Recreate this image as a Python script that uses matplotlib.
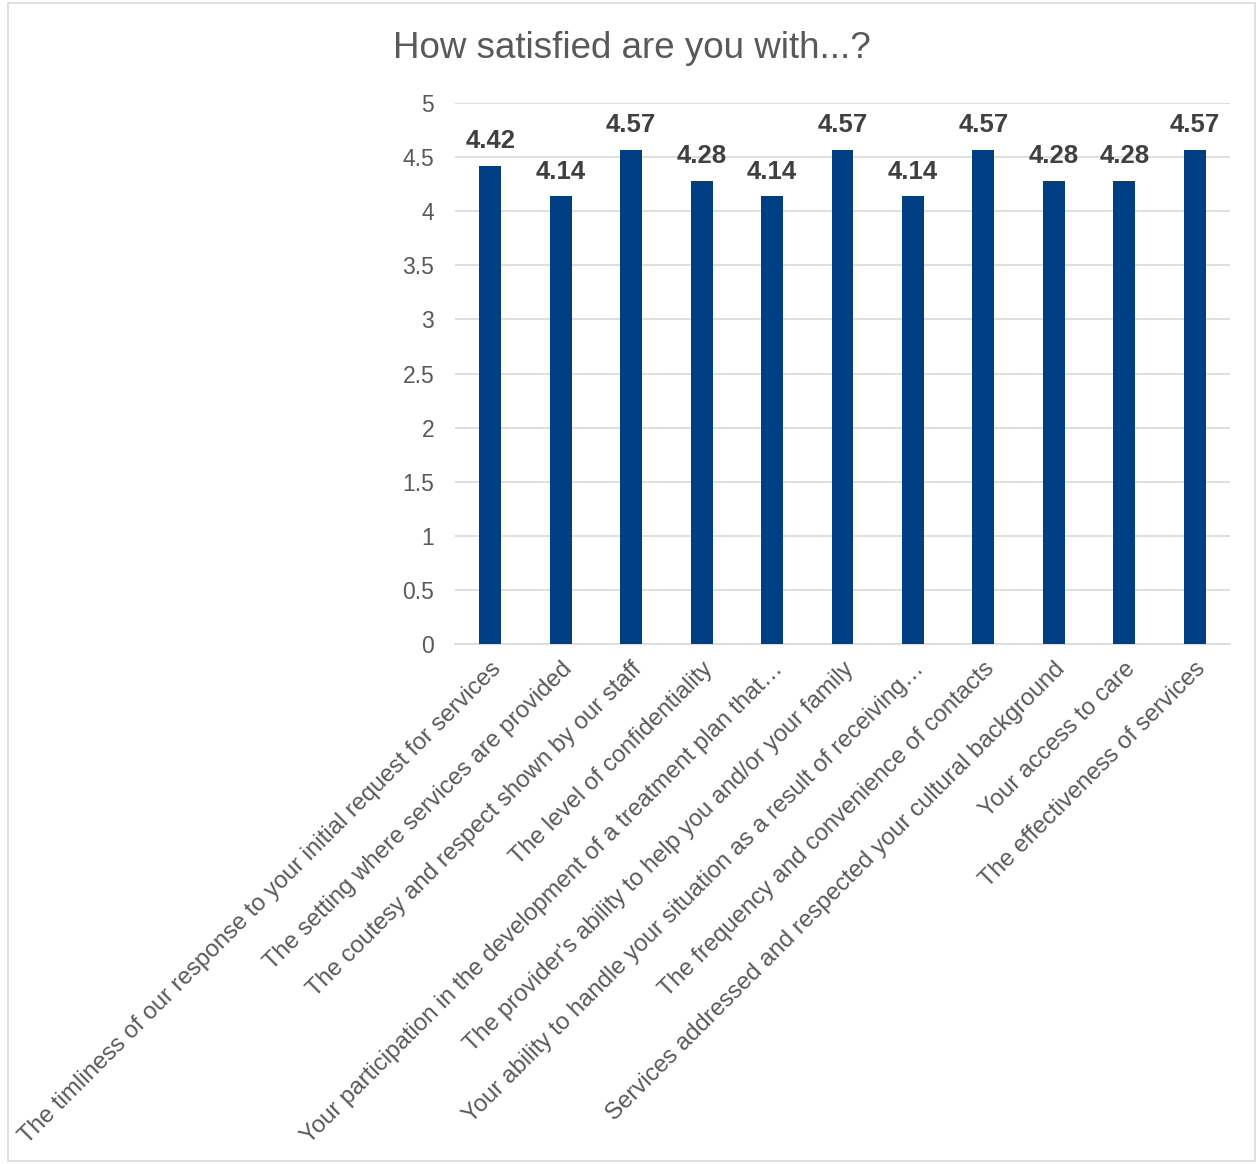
import matplotlib.pyplot as plt
from matplotlib.patches import Rectangle

plt.rcParams['font.family'] = ['Liberation Sans', 'DejaVu Sans']

questions = [
    "The timliness of our response to your initial request for services",
    "The setting where services are provided",
    "The coutesy and respect shown by our staff",
    "The level of confidentiality",
    "Your participation in the development of a treatment plan that\u2026",
    "The provider's ability to help you and/or your family",
    "Your ability to handle your situation as a result of receiving\u2026",
    "The frequency and convenience of contacts",
    "Services addressed and respected your cultural background",
    "Your access to care",
    "The effectiveness of services",
]
scores = [4.42, 4.14, 4.57, 4.28, 4.14, 4.57, 4.14, 4.57, 4.28, 4.28, 4.57]
yticks = [0, 0.5, 1, 1.5, 2, 2.5, 3, 3.5, 4, 4.5, 5]

bar_color = '#003f84'
text_gray = '#595959'
grid_gray = '#d9d9d9'

fig = plt.figure(figsize=(12.58, 11.64), dpi=100)
ax = fig.add_axes([0.3617, 0.4467, 0.9777 - 0.3617, 0.9115 - 0.4467])

x = list(range(len(questions)))
bars = ax.bar(x, scores, width=0.31, color=bar_color, zorder=3)
for b, v in zip(bars, scores):
    ax.annotate(f"{v:.2f}", (b.get_x() + b.get_width() / 2, v),
                xytext=(0, 9), textcoords='offset points',
                ha='center', va='bottom', fontsize=18.5, fontweight='bold',
                color='#404040', zorder=4)

ax.set_xlim(-0.5, len(questions) - 0.5)
ax.set_ylim(0, 5)
ax.set_yticks(yticks)
ax.set_yticklabels([f"{t:g}" for t in yticks], fontsize=16.5, color=text_gray)
ax.yaxis.grid(True, color=grid_gray, linewidth=1.2, zorder=0)
ax.tick_params(axis='both', length=0)
ax.tick_params(axis='y', pad=15)

ax.set_xticks(x)
ax.set_xticklabels(questions, rotation=45, ha='right', rotation_mode='anchor',
                   fontsize=17.3, color=text_gray)
ax.tick_params(axis='x', pad=10)

for side in ['top', 'right', 'left']:
    ax.spines[side].set_visible(False)
ax.spines['bottom'].set_color(grid_gray)
ax.spines['bottom'].set_linewidth(1.2)

fig.text(0.502, 0.958, "How satisfied are you with...?", ha='center',
         va='center', fontsize=26.5, color=text_gray)

fig.patches.append(Rectangle((0.006, 0.003), 0.992, 0.994, transform=fig.transFigure,
                             fill=False, edgecolor='#d9d9d9', linewidth=1.2))

fig.savefig('out.png', dpi=100)
